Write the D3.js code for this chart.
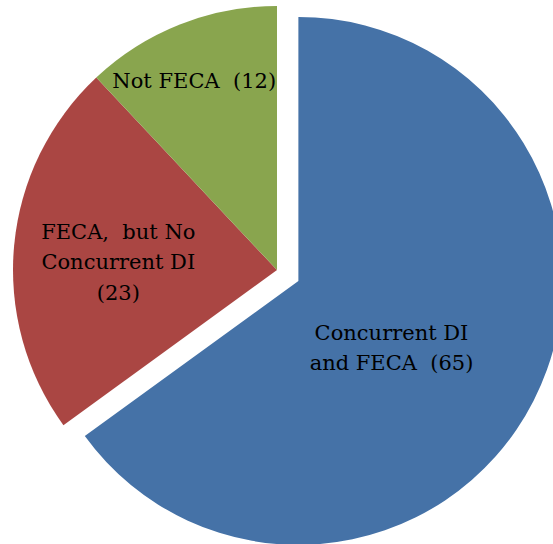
<!DOCTYPE html>
<html>
<head>
<meta charset="utf-8">
<script src="https://cdn.jsdelivr.net/npm/d3@7"></script>
<style>
  html, body { margin: 0; padding: 0; background: #fff; }
  svg { display: block; }
  .lbl { font-family: "DejaVu Serif", serif; }
</style>
</head>
<body>
<div id="chart"></div>
<script>
// slice data, clockwise from 12 o'clock
const categories = ["Concurrent DI and FECA", "FECA, but No Concurrent DI", "Not FECA"];
const values = [65, 23, 12];
const labelLines = [
    ["Concurrent DI", "and FECA  (65)"],
    ["FECA,  but No", "Concurrent DI", "(23)"],
    ["Not FECA  (12)"]
];
const colors = ["#4572A7", "#AA4643", "#89A54E"];

const width = 553, height = 544;
const cx = 277, cy = 270, radius = 264;
const explode = 24;          // only the first slice is pulled out
// where each label sits: fraction of radius along mid angle, plus a small nudge
const labelLayout = [
    { f: 0.43, dx: -8, dy: 15 },
    { f: 0.60, dx: -1, dy: 7 },
    { f: 0.78, dx: -7, dy: 2 }
];
const fontSize = 21, lineHeight = 30.5;

const svg = d3.select("#chart").append("svg")
    .attr("width", width)
    .attr("height", height)
    .attr("viewBox", [0, 0, width, height]);

const pie = d3.pie().sort(null).value(d => d.value);
const arcs = pie(values.map((v, i) => ({ name: categories[i], value: v, i: i })));

const arc = d3.arc().innerRadius(0).outerRadius(radius);

const slices = svg.append("g")
    .attr("transform", `translate(${cx},${cy})`)
    .selectAll("g")
    .data(arcs)
    .join("g")
        .attr("transform", d => {
            if (d.data.i !== 0) return null;
            const a = (d.startAngle + d.endAngle) / 2;
            return `translate(${Math.sin(a) * explode},${-Math.cos(a) * explode})`;
        });

slices.append("path")
    .attr("d", arc)
    .attr("fill", d => colors[d.data.i]);

slices.append("text")
    .attr("class", "lbl")
    .attr("font-size", fontSize)
    .attr("fill", "#000")
    .attr("text-anchor", "middle")
    .style("white-space", "pre")
    .each(function(d) {
        const lay = labelLayout[d.data.i];
        const a = (d.startAngle + d.endAngle) / 2;
        const x = Math.sin(a) * radius * lay.f + lay.dx;
        const y = -Math.cos(a) * radius * lay.f + lay.dy;
        const lines = labelLines[d.data.i];
        const y0 = y - (lines.length - 1) * lineHeight / 2 + fontSize * 0.35;
        d3.select(this).selectAll("tspan")
            .data(lines)
            .join("tspan")
                .attr("x", x)
                .attr("y", (t, j) => y0 + j * lineHeight)
                .text(t => t);
    });
</script>
</body>
</html>
